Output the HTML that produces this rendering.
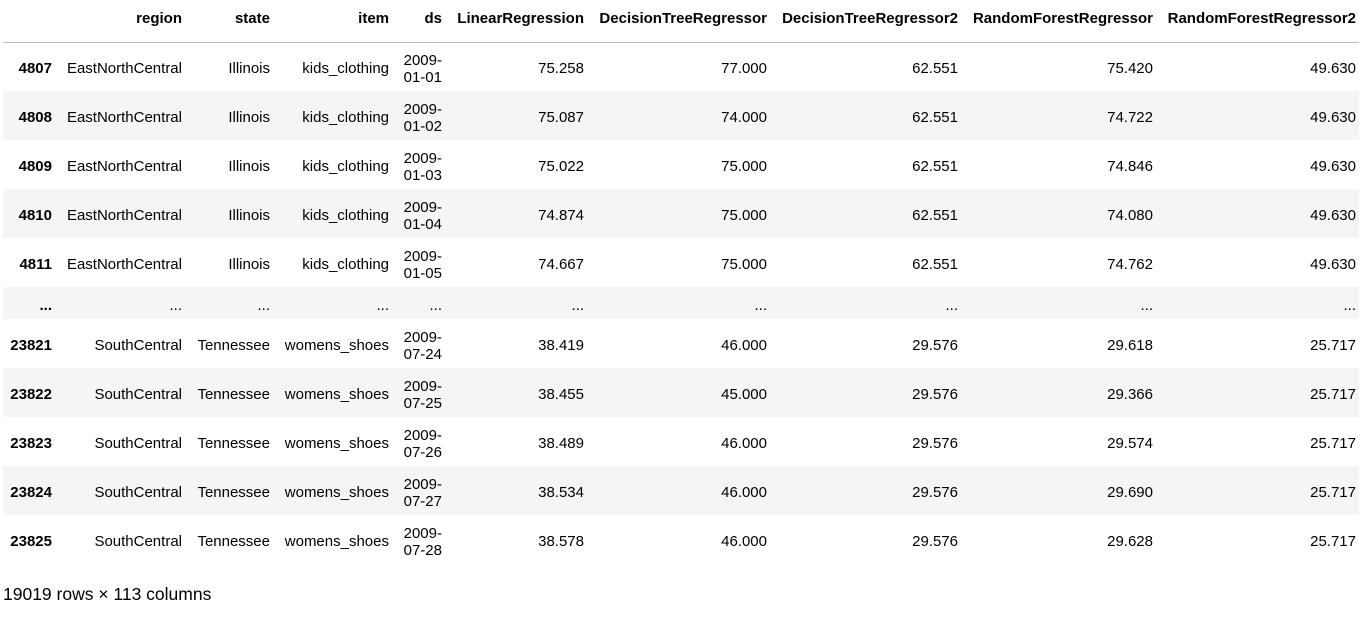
<!DOCTYPE html>
<html><head><meta charset="utf-8">
<style>
html,body{margin:0;padding:0;background:#fff;width:1362px;height:617px;overflow:hidden;}
body{font-family:"Liberation Sans",sans-serif;color:#000;}
table{position:absolute;left:3px;top:0;border-collapse:collapse;table-layout:fixed;font-size:15px;}
td,th{text-align:right;padding:0 5px 0 3px;vertical-align:middle;line-height:17px;overflow:visible;white-space:nowrap;}
td{padding-top:4px;}
th{font-weight:bold;vertical-align:top;padding-top:10px;box-sizing:border-box;}
td:last-child,th:last-child{padding-right:3px;}
thead tr{height:42px;}
thead th{border-bottom:1px solid #bbb;}
tbody tr{height:49px;}
tbody tr.el{height:32px;}
tbody tr:nth-child(even){background:#f5f5f5;}
td.ds{white-space:normal;}
.idx{font-weight:bold;}
#foot{position:absolute;left:3px;top:584px;font-size:17.5px;}
</style></head><body>
<table>
<colgroup><col style="width:54px"><col style="width:130px"><col style="width:88px"><col style="width:119px"><col style="width:53px"><col style="width:142px"><col style="width:183px"><col style="width:191px"><col style="width:195px"><col style="width:201px"></colgroup>
<thead><tr><th></th><th>region</th><th>state</th><th>item</th><th>ds</th><th>LinearRegression</th><th>DecisionTreeRegressor</th><th>DecisionTreeRegressor2</th><th>RandomForestRegressor</th><th>RandomForestRegressor2</th></tr></thead>
<tbody>
<tr><td class="idx">4807</td><td>EastNorthCentral</td><td>Illinois</td><td>kids_clothing</td><td class="ds">2009-<br>01-01</td><td>75.258</td><td>77.000</td><td>62.551</td><td>75.420</td><td>49.630</td></tr>
<tr><td class="idx">4808</td><td>EastNorthCentral</td><td>Illinois</td><td>kids_clothing</td><td class="ds">2009-<br>01-02</td><td>75.087</td><td>74.000</td><td>62.551</td><td>74.722</td><td>49.630</td></tr>
<tr><td class="idx">4809</td><td>EastNorthCentral</td><td>Illinois</td><td>kids_clothing</td><td class="ds">2009-<br>01-03</td><td>75.022</td><td>75.000</td><td>62.551</td><td>74.846</td><td>49.630</td></tr>
<tr><td class="idx">4810</td><td>EastNorthCentral</td><td>Illinois</td><td>kids_clothing</td><td class="ds">2009-<br>01-04</td><td>74.874</td><td>75.000</td><td>62.551</td><td>74.080</td><td>49.630</td></tr>
<tr><td class="idx">4811</td><td>EastNorthCentral</td><td>Illinois</td><td>kids_clothing</td><td class="ds">2009-<br>01-05</td><td>74.667</td><td>75.000</td><td>62.551</td><td>74.762</td><td>49.630</td></tr>
<tr class="el"><td class="idx">...</td><td>...</td><td>...</td><td>...</td><td>...</td><td>...</td><td>...</td><td>...</td><td>...</td><td>...</td></tr>
<tr><td class="idx">23821</td><td>SouthCentral</td><td>Tennessee</td><td>womens_shoes</td><td class="ds">2009-<br>07-24</td><td>38.419</td><td>46.000</td><td>29.576</td><td>29.618</td><td>25.717</td></tr>
<tr><td class="idx">23822</td><td>SouthCentral</td><td>Tennessee</td><td>womens_shoes</td><td class="ds">2009-<br>07-25</td><td>38.455</td><td>45.000</td><td>29.576</td><td>29.366</td><td>25.717</td></tr>
<tr><td class="idx">23823</td><td>SouthCentral</td><td>Tennessee</td><td>womens_shoes</td><td class="ds">2009-<br>07-26</td><td>38.489</td><td>46.000</td><td>29.576</td><td>29.574</td><td>25.717</td></tr>
<tr><td class="idx">23824</td><td>SouthCentral</td><td>Tennessee</td><td>womens_shoes</td><td class="ds">2009-<br>07-27</td><td>38.534</td><td>46.000</td><td>29.576</td><td>29.690</td><td>25.717</td></tr>
<tr><td class="idx">23825</td><td>SouthCentral</td><td>Tennessee</td><td>womens_shoes</td><td class="ds">2009-<br>07-28</td><td>38.578</td><td>46.000</td><td>29.576</td><td>29.628</td><td>25.717</td></tr>
</tbody></table>
<div id="foot">19019 rows × 113 columns</div>
</body></html>
